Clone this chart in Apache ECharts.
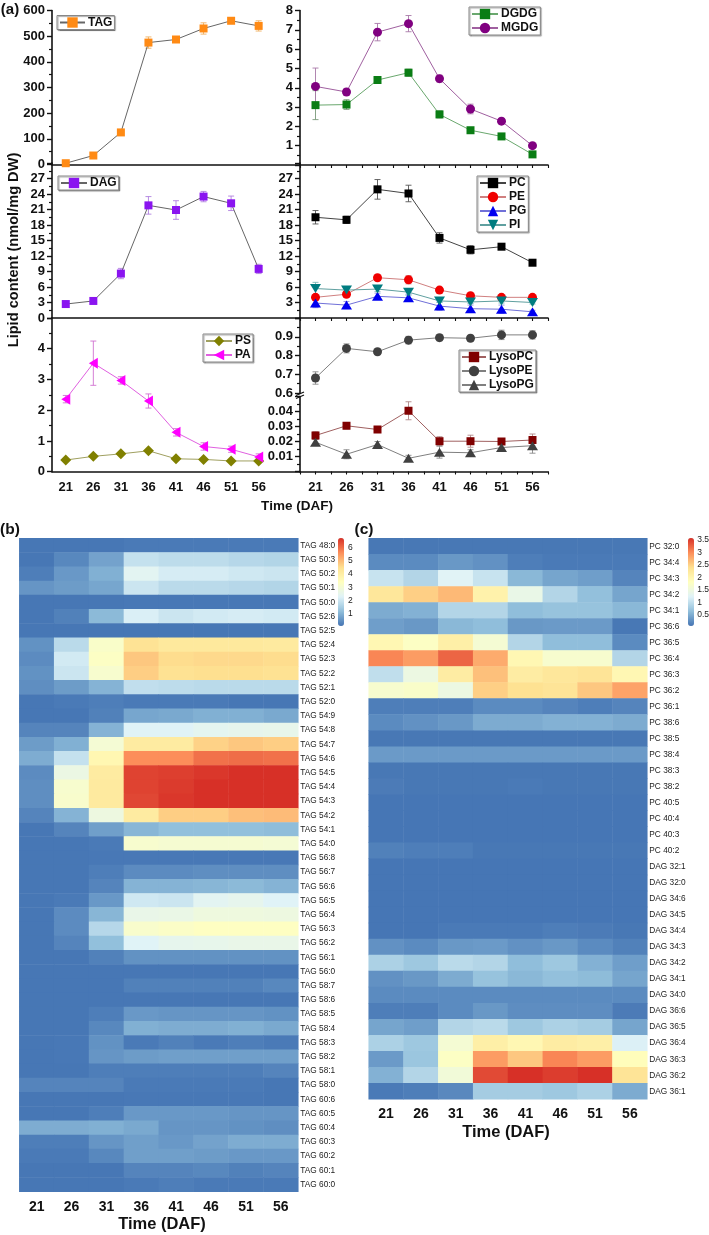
<!DOCTYPE html>
<html>
<head>
<meta charset="utf-8">
<style>html,body{margin:0;padding:0;background:#fff}#chart{width:709px;height:1235px}</style>
<script src="https://cdn.jsdelivr.net/npm/echarts@6/dist/echarts.min.js"></script>
</head>
<body>
<div id="chart"></div>
<script>
// x categories: left panels carry one extra unlabelled tick
const daysLeft = ['21', '26', '31', '36', '41', '46', '51', '56', ''];
const daysRight = ['21', '26', '31', '36', '41', '46', '51', '56'];

const TAG = [5, 35, 125, 475, 487, 530, 560, 540];
const TAG_err = [3, 5, 10, 22, 10, 22, 10, 20];
const DGDG = [3.1, 3.13, 4.4, 4.78, 2.62, 1.8, 1.48, 0.55];
const DGDG_err = [0.75, 0.25, 0.12, 0.18, 0.18, 0.12, 0.1, 0.08];
const MGDG = [4.07, 3.78, 6.88, 7.32, 4.47, 2.9, 2.27, 1.0];
const MGDG_err = [0.95, 0.15, 0.45, 0.42, 0.18, 0.25, 0.12, 0.05];
const DAG = [2.7, 3.3, 8.6, 21.8, 20.9, 23.5, 22.2, 9.5];
const DAG_err = [0.3, 0.3, 1.0, 1.7, 1.8, 1.0, 1.4, 0.9];
const PC = [19.5, 19, 24.9, 24.1, 15.5, 13.2, 13.8, 10.7];
const PC_err = [1.3, 0.7, 1.9, 1.6, 1.0, 0.8, 0.5, 0.4];
const PE = [4.0, 4.6, 7.8, 7.4, 5.4, 4.3, 4.0, 4.0];
const PE_err = [0.5, 0.5, 0.5, 0.8, 0.5, 0.3, 0.3, 0.3];
const PG = [2.9, 2.5, 4.2, 3.9, 2.3, 1.8, 1.7, 1.2];
const PG_err = [0.9, 0.7, 0.6, 0.7, 0.8, 0.7, 0.8, 0.3];
const PI = [5.7, 5.4, 5.6, 5.0, 3.3, 3.1, 3.3, 3.0];
const PI_err = [1.2, 0.4, 0.5, 0.6, 0.3, 0.3, 0.4, 0.3];
const PS = [0.38, 0.5, 0.58, 0.68, 0.42, 0.4, 0.35, 0.35];
const PS_err = [0.03, 0.03, 0.03, 0.03, 0.03, 0.03, 0.03, 0.03];
const PA = [2.36, 3.53, 2.97, 2.3, 1.28, 0.82, 0.73, 0.48];
const PA_err = [0.12, 0.72, 0.12, 0.23, 0.12, 0.12, 0.1, 0.1];
const LysoPE = [0.68, 0.838, 0.82, 0.882, 0.895, 0.892, 0.91, 0.91];
const LysoPE_err = [0.033, 0.024, 0.015, 0.02, 0.017, 0.015, 0.025, 0.022];
const LysoPC = [0.024, 0.0305, 0.028, 0.0405, 0.0202, 0.0202, 0.02, 0.021];
const LysoPC_err = [0.0025, 0.002, 0.002, 0.006, 0.003, 0.004, 0.002, 0.004];
const LysoPG = [0.0195, 0.0115, 0.018, 0.0088, 0.0129, 0.0125, 0.016, 0.0172];
const LysoPG_err = [0.002, 0.003, 0.002, 0.002, 0.004, 0.002, 0.002, 0.005];

const tagNames = ['TAG 48:0', 'TAG 50:3', 'TAG 50:2', 'TAG 50:1', 'TAG 50:0', 'TAG 52:6', 'TAG 52:5', 'TAG 52:4', 'TAG 52:3', 'TAG 52:2', 'TAG 52:1', 'TAG 52:0', 'TAG 54:9', 'TAG 54:8', 'TAG 54:7', 'TAG 54:6', 'TAG 54:5', 'TAG 54:4', 'TAG 54:3', 'TAG 54:2', 'TAG 54:1', 'TAG 54:0', 'TAG 56:8', 'TAG 56:7', 'TAG 56:6', 'TAG 56:5', 'TAG 56:4', 'TAG 56:3', 'TAG 56:2', 'TAG 56:1', 'TAG 56:0', 'TAG 58:7', 'TAG 58:6', 'TAG 58:5', 'TAG 58:4', 'TAG 58:3', 'TAG 58:2', 'TAG 58:1', 'TAG 58:0', 'TAG 60:6', 'TAG 60:5', 'TAG 60:4', 'TAG 60:3', 'TAG 60:2', 'TAG 60:1', 'TAG 60:0'];
const tagValues = [
    [.1, .1, .1, .15, .15, .15, .15, .15],
    [.1, .35, .75, 1.9, 1.8, 1.8, 1.7, 1.65],
    [.2, .6, .95, 2.4, 2.15, 2.15, 2.05, 2.0],
    [.55, .65, .8, 2.0, 1.75, 1.75, 1.7, 1.65],
    [.1, .1, .1, .12, .12, .12, .12, .12],
    [.1, .25, 1.1, 2.2, 2.0, 2.1, 2.15, 2.1],
    [.1, .1, .1, .1, .1, .1, .1, .1],
    [.5, 1.75, 3.2, 4.4, 4.2, 4.2, 4.2, 4.15],
    [.4, 2.1, 3.3, 4.85, 4.55, 4.6, 4.6, 4.55],
    [.5, 2.0, 3.1, 4.75, 4.45, 4.5, 4.5, 4.45],
    [.45, .65, 1.0, 1.85, 1.8, 1.75, 1.75, 1.75],
    [.1, .15, .2, .15, .15, .15, .1, .1],
    [.1, .1, .25, .8, .85, .95, .95, .85],
    [.3, .3, 1.0, 2.3, 2.3, 2.45, 2.5, 2.55],
    [.65, .95, 3.0, 4.1, 4.1, 4.7, 4.85, 4.75],
    [.9, 1.9, 3.7, 5.6, 5.6, 5.95, 6.0, 5.95],
    [.4, 2.7, 4.1, 6.5, 6.55, 6.65, 6.73, 6.73],
    [.45, 3.1, 4.15, 6.5, 6.6, 6.73, 6.73, 6.73],
    [.45, 3.15, 4.15, 6.45, 6.65, 6.73, 6.73, 6.73],
    [.3, 1.0, 2.75, 4.1, 4.75, 4.75, 4.95, 5.0],
    [.1, .3, .7, 1.05, 1.2, 1.2, 1.2, 1.15],
    [.1, .1, .15, 3.1, 3.05, 3.05, 3.05, 3.0],
    [.1, .1, .12, .12, .12, .12, .12, .12],
    [.1, .1, .2, .4, .4, .45, .45, .45],
    [.1, .1, .3, 1.0, 1.0, 1.05, 1.1, 1.0],
    [.1, .15, .6, 2.05, 2.0, 2.4, 2.5, 2.3],
    [.1, .4, 1.05, 2.6, 2.65, 2.8, 2.8, 2.75],
    [.1, .4, 1.7, 3.15, 3.25, 3.35, 3.35, 3.35],
    [.1, .3, 1.2, 2.3, 2.5, 2.55, 2.6, 2.6],
    [.1, .1, .25, .5, .5, .5, .5, .5],
    [.1, .1, .1, .1, .1, .1, .1, .1],
    [.1, .1, .1, .25, .25, .25, .25, .35],
    [.1, .1, .1, .1, .1, .1, .1, .1],
    [.1, .1, .2, .6, .55, .55, .55, .5],
    [.1, .1, .35, .95, .9, .9, .95, .85],
    [.1, .12, .5, .15, .25, .15, .2, .15],
    [.1, .12, .55, .65, .7, .7, .7, .7],
    [.1, .1, .2, .2, .2, .2, .2, .3],
    [.3, .3, .3, .15, .15, .15, .15, .1],
    [.1, .1, .1, .12, .12, .12, .12, .1],
    [.1, .1, .2, .6, .6, .6, .55, .55],
    [.9, .9, .95, .85, .55, .55, .5, .45],
    [.2, .2, .55, .7, .6, .75, .9, .9],
    [.15, .15, .35, .7, .7, .65, .6, .6],
    [.1, .1, .1, .3, .3, .35, .25, .3],
    [.1, .1, .1, .15, .2, .15, .15, .15]
];

const pcDagNames = ['PC 32:0', 'PC 34:4', 'PC 34:3', 'PC 34:2', 'PC 34:1', 'PC 36:6', 'PC 36:5', 'PC 36:4', 'PC 36:3', 'PC 36:2', 'PC 36:1', 'PC 38:6', 'PC 38:5', 'PC 38:4', 'PC 38:3', 'PC 38:2', 'PC 40:5', 'PC 40:4', 'PC 40:3', 'PC 40:2', 'DAG 32:1', 'DAG 32:0', 'DAG 34:6', 'DAG 34:5', 'DAG 34:4', 'DAG 34:3', 'DAG 34:2', 'DAG 34:1', 'DAG 34:0', 'DAG 36:6', 'DAG 36:5', 'DAG 36:4', 'DAG 36:3', 'DAG 36:2', 'DAG 36:1'];
const pcDagValues = [
    [.15, .15, .15, .15, .15, .15, .15, .15],
    [.3, .3, .4, .35, .2, .17, .17, .17],
    [1.1, .95, 1.3, 1.1, .65, .5, .45, .25],
    [2.3, 2.55, 2.7, 2.1, 1.45, .95, .72, .5],
    [.55, .6, .95, .95, .7, .75, .75, .65],
    [.45, .4, .65, .7, .4, .42, .42, .15],
    [2.0, 1.8, 2.15, 1.65, .95, .7, .7, .3],
    [3.05, 2.9, 3.25, 2.8, 2.0, 1.7, 1.7, .95],
    [1.05, 1.5, 2.2, 2.65, 2.2, 2.3, 2.35, 2.0],
    [1.7, 1.75, 1.5, 2.55, 2.4, 2.35, 2.6, 2.85],
    [.2, .2, .2, .3, .3, .25, .2, .25],
    [.3, .35, .4, .55, .55, .6, .6, .55],
    [.15, .15, .15, .15, .15, .15, .15, .15],
    [.42, .42, .42, .42, .42, .42, .42, .42],
    [.15, .15, .15, .15, .15, .15, .15, .15],
    [.18, .15, .15, .15, .17, .15, .15, .15],
    [.14, .14, .14, .14, .14, .14, .14, .14],
    [.14, .14, .14, .14, .14, .14, .14, .14],
    [.14, .14, .14, .14, .14, .14, .14, .14],
    [.22, .2, .2, .15, .15, .15, .15, .15],
    [.14, .14, .14, .14, .14, .14, .14, .14],
    [.14, .14, .14, .14, .14, .14, .14, .14],
    [.14, .14, .14, .14, .14, .14, .14, .14],
    [.14, .14, .14, .14, .14, .14, .14, .14],
    [.14, .14, .17, .17, .17, .2, .18, .15],
    [.35, .3, .4, .42, .35, .4, .3, .22],
    [.9, .8, 1.0, .95, .7, .8, .6, .45],
    [.35, .4, .55, .75, .65, .72, .68, .5],
    [.3, .3, .3, .3, .3, .3, .3, .3],
    [.2, .2, .3, .4, .32, .32, .32, .18],
    [.5, .45, .95, 1.0, .8, .9, .85, .5],
    [.9, .8, 1.65, 2.15, 2.0, 2.2, 2.15, 1.25],
    [.42, .78, 1.8, 2.9, 2.6, 3.05, 2.9, 1.9],
    [.6, .95, 1.6, 3.42, 3.58, 3.5, 3.58, 2.35],
    [.17, .2, .28, .85, .85, .8, .9, .55]
];

const heatColors = ['#4575B4', '#91BFDB', '#E0F3F8', '#FFFFBF', '#FEE090', '#FC8D59', '#D73027'];
const sans = '"Liberation Sans", sans-serif';

const grids = [];
const xAxes = [];
const yAxes = [];
const series = [];
const legends = [];

// one line panel: grid + axes, returns its index
function addPanel(box, cats, y, showX) {
    const idx = grids.length;
    grids.push({ left: box[0], top: box[1], width: box[2], height: box[3] });
    xAxes.push({
        type: 'category', gridIndex: idx, data: cats, boundaryGap: true,
        axisLine: { onZero: false, lineStyle: { color: '#111', width: 1.6 } },
        axisTick: { alignWithLabel: true, length: 5, lineStyle: { color: '#111', width: 1.4 } },
        axisLabel: { show: !!showX, interval: 0, margin: 9, color: '#111', fontFamily: sans, fontWeight: 'bold', fontSize: 13 },
        splitLine: { show: false }
    });
    yAxes.push(Object.assign({
        type: 'value', gridIndex: idx,
        axisLine: { show: true, onZero: false, lineStyle: { color: '#111', width: 1.6 } },
        axisTick: { show: true, length: 5, lineStyle: { color: '#111', width: 1.4 } },
        minorTick: { show: true, splitNumber: 2, length: 3, lineStyle: { color: '#111', width: 1.2 } },
        axisLabel: { margin: 7, color: '#111', fontFamily: sans, fontWeight: 'bold', fontSize: 13, formatter: y.fmt },
        splitLine: { show: false }
    }, y.scale));
    return idx;
}

// line with markers plus an error bar layer read from the same arrays
function addLine(panel, name, values, errs, opt) {
    series.push({
        type: 'custom', xAxisIndex: panel, yAxisIndex: panel, silent: true, z: 2,
        data: values.map((v, i) => [i, v - errs[i], v + errs[i]]),
        encode: { x: 0, y: [1, 2] },
        renderItem(params, api) {
            const top = api.coord([api.value(0), api.value(2)]);
            const bot = api.coord([api.value(0), api.value(1)]);
            const st = { stroke: opt.err, lineWidth: 0.9, fill: null };
            return {
                type: 'group',
                children: [
                    { type: 'line', shape: { x1: top[0], y1: top[1], x2: bot[0], y2: bot[1] }, style: st },
                    { type: 'line', shape: { x1: top[0] - 3, y1: top[1], x2: top[0] + 3, y2: top[1] }, style: st },
                    { type: 'line', shape: { x1: bot[0] - 3, y1: bot[1], x2: bot[0] + 3, y2: bot[1] }, style: st }
                ]
            };
        }
    });
    series.push({
        type: 'line', name, xAxisIndex: panel, yAxisIndex: panel, data: values, z: 3,
        symbol: opt.symbol, symbolSize: opt.size, symbolRotate: opt.rotate || 0,
        itemStyle: { color: opt.color },
        lineStyle: { color: opt.line, width: 1 }
    });
}

function addLegend(names, left, top, itemWidth) {
    legends.push({
        data: names, left, top, orient: 'vertical', itemWidth, itemHeight: 13, itemGap: 2,
        padding: [1, 2, 1, 2], borderColor: '#888', borderWidth: 1,
        shadowColor: 'rgba(0,0,0,0.35)', shadowBlur: 1, shadowOffsetX: 1, shadowOffsetY: 1,
        backgroundColor: '#fff', selectedMode: false,
        textStyle: { color: '#111', fontFamily: sans, fontWeight: 'bold', fontSize: 12, padding: [0, 0, 0, -2] }
    });
}

const hide = list => v => (list.includes(v) ? '' : String(v));

const p1 = addPanel([52, 10.5, 248, 154], daysLeft, { scale: { min: 0, max: 600, interval: 100 } });
const p2 = addPanel([300, 10.5, 248, 154.5], daysRight, { scale: { min: 0, max: 8, interval: 1 }, fmt: hide([0]) });
const p3 = addPanel([52, 163, 248, 155], daysLeft, { scale: { min: 0, max: 30, interval: 3 }, fmt: hide([30]) });
const p4 = addPanel([300, 163, 248, 155], daysRight, { scale: { min: 0, max: 30, interval: 3 }, fmt: hide([0, 30]) });
const p5 = addPanel([52, 318, 248, 153.7], daysLeft, { scale: { min: 0, max: 5, interval: 1 }, fmt: hide([5]) }, true);
// right bottom panel has a broken y axis, so two stacked grids
const p6 = addPanel([300, 318, 248, 75], daysRight, {
    scale: { min: 0.6, max: 1.0, interval: 0.1 },
    fmt: v => (v === 1 ? '' : v.toFixed(1))
});
xAxes[p6].axisLine.show = false;
xAxes[p6].axisTick.show = false;
const p7 = addPanel([300, 396.5, 248, 75], daysRight, {
    scale: { min: 0, max: 0.05, interval: 0.01 },
    fmt: v => (v === 0 || v > 0.045 ? '' : v.toFixed(2))
}, true);

addLine(p1, 'TAG', TAG, TAG_err, { symbol: 'rect', size: 8, color: '#FF8A14', line: '#666', err: '#F0B060' });
addLine(p2, 'DGDG', DGDG, DGDG_err, { symbol: 'rect', size: 8, color: '#0A7D14', line: '#6AA86E', err: '#7A9A7A' });
addLine(p2, 'MGDG', MGDG, MGDG_err, { symbol: 'circle', size: 9, color: '#800080', line: '#A060A0', err: '#A878A8' });
addLine(p3, 'DAG', DAG, DAG_err, { symbol: 'rect', size: 8, color: '#8A14F0', line: '#666', err: '#B080E0' });
addLine(p4, 'PC', PC, PC_err, { symbol: 'rect', size: 8, color: '#000', line: '#444', err: '#555' });
addLine(p4, 'PE', PE, PE_err, { symbol: 'circle', size: 9, color: '#F00000', line: '#D08080', err: '#D09090' });
addLine(p4, 'PG', PG, PG_err, { symbol: 'triangle', size: [11, 9], color: '#0000F0', line: '#7070D8', err: '#9090E0' });
addLine(p4, 'PI', PI, PI_err, { symbol: 'triangle', size: [11, 9], rotate: 180, color: '#007C80', line: '#60A0A0', err: '#80B8B8' });
addLine(p5, 'PS', PS, PS_err, { symbol: 'diamond', size: [11, 11], color: '#808000', line: '#A0A060', err: '#A0A060' });
addLine(p5, 'PA', PA, PA_err, { symbol: 'triangle', size: [11, 9], rotate: 90, color: '#FF00FF', line: '#E060E0', err: '#D070D0' });
addLine(p6, 'LysoPE', LysoPE, LysoPE_err, { symbol: 'circle', size: 9, color: '#404040', line: '#808080', err: '#888' });
addLine(p7, 'LysoPC', LysoPC, LysoPC_err, { symbol: 'rect', size: 8, color: '#800000', line: '#A06060', err: '#B08888' });
addLine(p7, 'LysoPG', LysoPG, LysoPG_err, { symbol: 'triangle', size: [11, 9], color: '#404040', line: '#808080', err: '#888' });

addLegend(['TAG'], 57, 15.5, 25);
addLegend(['DGDG', 'MGDG'], 469, 7, 26);
addLegend(['DAG'], 58, 176, 26);
addLegend(['PC', 'PE', 'PG', 'PI'], 477, 176, 26);
addLegend(['PS', 'PA'], 203, 334, 26);
addLegend(['LysoPC', 'LysoPE', 'LysoPG'], 459, 350, 24);

// short minor ticks halfway between the days on the right panels
[p2, p4, p7].forEach(p => {
    xAxes.push({
        type: 'value', gridIndex: p, position: 'bottom', min: 0, max: 16, interval: 1,
        axisLine: { show: false }, axisLabel: { show: false }, splitLine: { show: false },
        axisTick: { show: true, length: 3, lineStyle: { color: '#111', width: 1.1 } }
    });
});

// heatmap panel + colour bar (the bar's value axis only gives the tick labels)
function addHeatmap(box, names, values, range, barBox, step) {
    const idx = xAxes.length;
    grids.push({ left: box[0], top: box[1], width: box[2], height: box[3] });
    const gridIdx = grids.length - 1;
    xAxes.push({
        type: 'category', gridIndex: gridIdx, data: daysRight, axisLine: { show: false }, axisTick: { show: false },
        axisLabel: { interval: 0, margin: 8, color: '#111', fontFamily: sans, fontWeight: 'bold', fontSize: 14 }
    });
    const yIdx = yAxes.length;
    yAxes.push({
        type: 'category', gridIndex: gridIdx, data: names, inverse: true, position: 'right',
        axisLine: { show: false }, axisTick: { show: false },
        axisLabel: { interval: 0, margin: 2, color: '#222', fontFamily: sans, fontSize: 8.3 }
    });
    const data = [];
    values.forEach((row, r) => row.forEach((v, c) => data.push([c, r, v])));
    const sIdx = series.length;
    series.push({ type: 'heatmap', xAxisIndex: idx, yAxisIndex: yIdx, data, silent: true, progressive: 0 });
    visualMaps.push({
        type: 'continuous', seriesIndex: sIdx, dimension: 2, min: range[0], max: range[1], calculable: false,
        hoverLink: false, left: barBox[0], top: barBox[1], itemWidth: barBox[2], itemHeight: barBox[3], padding: 0,
        inRange: { color: heatColors }
    });
    grids.push({ left: barBox[0] + barBox[2], top: barBox[1], width: 1, height: barBox[4] });
    const bar = grids.length - 1;
    xAxes.push({ type: 'value', gridIndex: bar, show: false, min: 0, max: 1 });
    yAxes.push({
        type: 'value', gridIndex: bar, position: 'right', min: 0, max: range[1], interval: step,
        axisLine: { show: false }, axisTick: { show: false }, splitLine: { show: false },
        axisLabel: {
            margin: 3, color: '#222', fontFamily: sans, fontSize: 8.5,
            formatter: v => (v === 0 || Math.abs(v / step - Math.round(v / step)) > 1e-6 ? '' : String(v))
        }
    });
}

const visualMaps = [];
addHeatmap([19.3, 538.3, 279, 653.4], tagNames, tagValues, [0.07, 6.73], [338, 538, 6, 88, 88.9], 1);
addHeatmap([368.7, 538.3, 278.6, 561], pcDagNames, pcDagValues, [0.13, 3.58], [688, 538, 6, 88, 89.5], 0.5);

const boldText = (text, x, y, size, rotation) => ({
    type: 'text', x, y, z: 10, rotation: rotation || 0,
    style: { text, fill: '#111', font: 'bold ' + size + 'px ' + sans, textAlign: 'center', textVerticalAlign: 'middle' }
});
const graphic = [
    boldText('(a)', 10, 10, 15),
    boldText('(b)', 10, 530, 15.5),
    boldText('(c)', 364, 530, 15.5),
    boldText('Lipid content (nmol/mg DW)', 13.5, 250, 14.6, Math.PI / 2),
    boldText('Time (DAF)', 297, 506, 13.5),
    boldText('Time (DAF)', 162, 1224, 16.5),
    boldText('Time (DAF)', 506, 1132, 16.5),
    // axis break marks
    { type: 'line', z: 10, shape: { x1: 296, y1: 395.5, x2: 304, y2: 392 }, style: { stroke: '#111', lineWidth: 1.2 } },
    { type: 'line', z: 10, shape: { x1: 296, y1: 398.5, x2: 304, y2: 395 }, style: { stroke: '#111', lineWidth: 1.2 } }
];

const chart = echarts.init(document.getElementById('chart'), null, { renderer: 'canvas' });
chart.setOption({
    animation: false,
    backgroundColor: '#fff',
    grid: grids,
    xAxis: xAxes,
    yAxis: yAxes,
    legend: legends,
    visualMap: visualMaps,
    series,
    graphic
});
</script>
</body>
</html>
